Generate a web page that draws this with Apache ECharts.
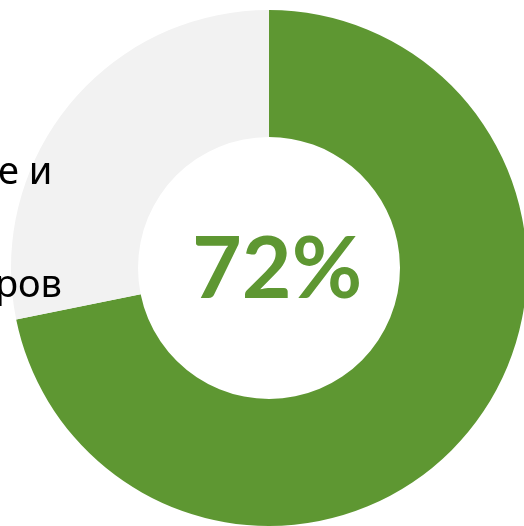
<!DOCTYPE html>
<html>
<head>
<meta charset="utf-8">
<script src="https://cdn.jsdelivr.net/npm/echarts@6/dist/echarts.min.js"></script>
<style>html,body{margin:0;padding:0;background:#fff;}#c{width:524px;height:526px;}</style>
</head>
<body>
<div id="c"></div>
<script>
const categories = ['Да', 'Нет'];
const values = [71.8, 28.2];
const colors = ['#5E9732', '#F2F2F2'];
const sideLines = ['е и', 'ров'];

const chart = echarts.init(document.getElementById('c'));
const total = values.reduce((a, b) => a + b, 0);
chart.setOption({
  animation: false,
  series: [{
    type: 'pie',
    center: [269, 268],
    radius: [131, 258],
    startAngle: 90,
    clockwise: true,
    silent: true,
    label: { show: false },
    labelLine: { show: false },
    itemStyle: { borderWidth: 0 },
    data: categories.map((c, i) => ({ name: c, value: values[i], itemStyle: { color: colors[i] } }))
  }],
  graphic: [
    {
      type: 'text', z: 100,
      style: {
        text: Math.round(values[0] / total * 100) + '%',
        x: 277, y: 270, align: 'center', verticalAlign: 'middle',
        fontSize: 86, fontWeight: 'bold', fontFamily: 'Lato', fill: '#5E9732'
      }
    },
    {
      type: 'text', z: 100,
      style: { text: sideLines[0], x: -2, y: 173, align: 'left', verticalAlign: 'middle', fontSize: 38, fontFamily: 'Noto Sans', fill: '#000' }
    },
    {
      type: 'text', z: 100,
      style: { text: sideLines[1], x: 62, y: 286, align: 'right', verticalAlign: 'middle', fontSize: 38, fontFamily: 'Noto Sans', fill: '#000' }
    }
  ]
});
</script>
</body>
</html>
